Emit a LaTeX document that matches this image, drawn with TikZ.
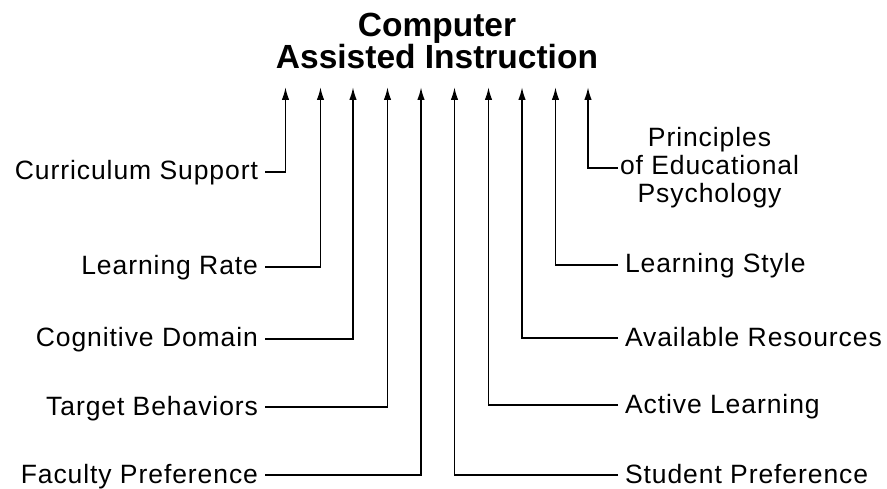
\documentclass[tikz,border=0pt]{standalone}
\usepackage{fontspec}
\setmainfont{Liberation Sans}
\usetikzlibrary{arrows.meta}
\tikzset{
  lbl/.style={inner sep=0pt, font=\fontsize{26.5}{28}\selectfont\addfontfeature{LetterSpace=3.5}},
  lone/.style={lbl, text height=16pt, text depth=0pt, outer xsep=7pt},
  ttl/.style={inner sep=0pt, align=center, font=\bfseries\fontsize{33.5}{29}\selectfont},
  arr/.style={line width=1.8pt, -{Latex[length=13pt,width=7.5pt]}},
}
\begin{document}
\begin{tikzpicture}[x=1pt,y=-1pt]
\useasboundingbox (0,0) rectangle (887,489);
\node[ttl, anchor=north] (title) at (437,13) {Computer\\Assisted Instruction};
\foreach \i/\x in {1/285.5,2/320.5,3/353,4/387.5,5/421,6/454.5,7/488.5,8/522,9/555.5,10/588}
  \coordinate (t\i) at (\x,87);
% left labels
\node[lone, anchor=east] (cs) at (265,172) {Curriculum Support};
\node[lone, anchor=east] (lr) at (265,267) {Learning Rate};
\node[lone, anchor=east] (cd) at (265,339) {Cognitive Domain};
\node[lone, anchor=east] (tb) at (265,407) {Target Behaviors};
\node[lone, anchor=east] (fp) at (265,475) {Faculty Preference};
% right labels
\node[lone, anchor=west] (sp) at (618,475) {Student Preference};
\node[lone, anchor=west] (al) at (618,405) {Active Learning};
\node[lone, anchor=west] (ar) at (618,338) {Available Resources};
\node[lone, anchor=west] (ls) at (618,265) {Learning Style};
\node[lbl, align=center, outer xsep=2pt, anchor=west] (pp) at (618,168) {Principles\\of Educational\\Psychology};
% connectors
\draw[arr] (cs.east) -| (t1);
\draw[arr] (lr.east) -| (t2);
\draw[arr] (cd.east) -| (t3);
\draw[arr] (tb.east) -| (t4);
\draw[arr] (fp.east) -| (t5);
\draw[arr] (sp.west) -| (t6);
\draw[arr] (al.west) -| (t7);
\draw[arr] (ar.west) -| (t8);
\draw[arr] (ls.west) -| (t9);
\draw[arr] (pp.west) -| (t10);
\end{tikzpicture}
\end{document}
